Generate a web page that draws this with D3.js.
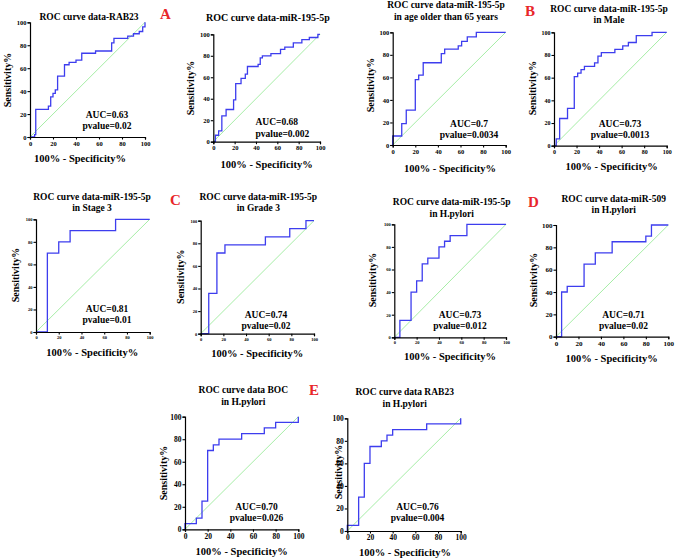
<!DOCTYPE html>
<html><head><meta charset="utf-8">
<script src="https://cdn.jsdelivr.net/npm/d3@7"></script>
<style>body{margin:0;background:#fff}svg{display:block}</style>
</head><body>
<script>
// ---------- DATA ----------
const panelIds = ["p1","p2","p3","p4","p5","p6","p7","p8","p9","p10"];
const titleLines = [
  ["ROC curve data-RAB23"],
  ["ROC curve data-miR-195-5p"],
  ["ROC curve data-miR-195-5p","in age older than 65 years"],
  ["ROC curve data-miR-195-5p","in Male"],
  ["ROC curve data-miR-195-5p","in Stage 3"],
  ["ROC curve data-miR-195-5p","in Grade 3"],
  ["ROC curve data-miR-195-5p","in H.pylori"],
  ["ROC curve data-miR-509","in H.pylori"],
  ["ROC curve data BOC","in H.pylori"],
  ["ROC curve data RAB23","in H.pylori"]
];
const aucLabels = ["AUC=0.63","AUC=0.68","AUC=0.7","AUC=0.73","AUC=0.81","AUC=0.74","AUC=0.73","AUC=0.71","AUC=0.70","AUC=0.76"];
const pLabels = ["pvalue=0.02","pvalue=0.002","pvalue=0.0034","pvalue=0.0013","pvalue=0.01","pvalue=0.02","pvalue=0.012","pvalue=0.02","pvalue=0.026","pvalue=0.004"];
const tickValues = [0,20,40,60,80,100];
const diagonal = [0,100];
const xAxisLabel = "100% - Specificity%";
const yAxisLabel = "Sensitivity%";
const panelLetters = ["A","B","C","D","E"];

// ROC vertices (100% - specificity, sensitivity)
const p1X = [0,4,4,5,5,16,16,18,18,20,20,22,22,24,24,30,30,34,34,40,40,45,45,57,57,71,71,73,73,85,85,90,90,95,95,98,98,100,100];
const p1Y = [0,0,2,2,24,24,27,27,35,35,38,38,41,41,53,53,63,63,65,65,67,67,73,73,75,75,82,82,86,86,88,88,90,90,92,92,96,96,100];
const p2X = [0,2,2,5,5,8,8,12,12,19,19,21,21,26,26,30,30,32,32,42,42,44,44,46,46,54,54,63,63,67,67,75,75,83,83,90,90,98,98,100];
const p2Y = [0,0,6,6,10,10,24,24,30,30,39,39,54,54,59,59,63,63,70,70,72,72,78,78,80,80,82,82,86,86,88,88,92,92,95,95,97,97,100,100];
const p3X = [0,0,8,8,12,12,20,20,23,23,27,27,43,43,46,46,58,58,61,61,66,66,74,74,100];
const p3Y = [0,8,8,19,19,31,31,58,58,62,62,73,73,81,81,85,85,88,88,92,92,96,96,100,100];
const p4X = [0,2,2,5,5,12,12,18,18,21,21,24,24,27,27,36,36,39,39,42,42,54,54,61,61,66,66,73,73,87,87,100];
const p4Y = [0,0,6,6,24,24,33,33,61,61,64,64,67,67,70,70,73,73,79,79,82,82,85,85,88,88,91,91,97,97,100,100];
const p5X = [0,10,10,20,20,30,30,70,70,100];
const p5Y = [0,0,70,70,80,80,90,90,100,100];
const p6X = [0,7.1,7.1,14.3,14.3,21.4,21.4,57.1,57.1,78.6,78.6,92.9,92.9,100];
const p6Y = [0,0,35.7,35.7,71.4,71.4,78.6,78.6,85.7,85.7,92.9,92.9,100,100];
const p7X = [0,5,5,15,15,20,20,25,25,30,30,40,40,45,45,50,50,65,65,100];
const p7Y = [0,0,15,15,40,40,50,50,65,65,70,70,80,80,85,85,90,90,100,100];
const p8X = [0,5,5,10,10,25,25,35,35,50,50,80,80,85,85,100];
const p8Y = [0,0,40,40,45,45,65,65,75,75,85,85,90,90,100,100];
const p9X = [0,0,10,10,15,15,20,20,25,25,30,30,50,50,70,70,80,80,100,100];
const p9Y = [0,5,5,10,10,25,25,70,70,75,75,80,80,85,85,90,90,95,95,100];
const p10X = [0,0,10,10,15,15,20,20,30,30,35,35,40,40,70,70,100,100];
const p10Y = [0,5,5,30,30,60,60,75,75,80,80,85,85,90,90,95,95,100];
const curvesX = [p1X,p2X,p3X,p4X,p5X,p6X,p7X,p8X,p9X,p10X];
const curvesY = [p1Y,p2Y,p3Y,p4Y,p5Y,p6Y,p7Y,p8Y,p9Y,p10Y];

// ---------- LAYOUT (pixels) ----------
const layout = [
  {box:[30,145,22.3,137], tx:89, ty:[20], auc:[107,115,126], yl:[7,80], xl:[80,158.5], tf:6.5, ttf:9.5, align:"middle"},
  {box:[213.3,320,34.3,141.7], tx:268, ty:[20.5], auc:[255.5,121.7,133.3], yl:[190,88], xl:[266.7,164.5], tf:6.5, ttf:10, align:"start"},
  {box:[392.7,505.7,32.3,145], tx:446, ty:[8,19.5], auc:[469,123.3,134.3], yl:[370,85], xl:[450,168], tf:6.5, ttf:9.5, align:"middle"},
  {box:[554,666.7,32.3,145.7], tx:609, ty:[11.5,23], auc:[620,123.3,134.3], yl:[532.3,88], xl:[611.7,166.5], tf:6, ttf:9.5, align:"middle"},
  {box:[36,149.7,219.3,332], tx:92, ty:[199.5,210.5], auc:[107,308.3,320], yl:[15,275], xl:[92.3,352.3], tf:4.5, ttf:9.5, align:"middle"},
  {box:[200.7,314,220.7,333.7], tx:258.3, ty:[199.5,211], auc:[266,315,325.7], yl:[180,276.7], xl:[257.3,353.5], tf:4.5, ttf:9.5, align:"middle"},
  {box:[394.3,506,224.3,337.3], tx:451.7, ty:[205,216.7], auc:[460,315,325.7], yl:[372.7,280], xl:[450,356.7], tf:4.5, ttf:9.5, align:"middle"},
  {box:[556,668.3,225,336.7], tx:613.7, ty:[201.7,213], auc:[623.5,315,325.7], yl:[533.3,280], xl:[611.7,358], tf:7, ttf:9.5, align:"middle"},
  {box:[185,298.3,416.7,529.3], tx:243.3, ty:[393.3,405], auc:[256.5,506.7,517.7], yl:[163,473], xl:[241.7,551.7], tf:7.5, ttf:9.5, align:"middle"},
  {box:[347.3,460.7,418.3,531], tx:404.7, ty:[395,406.7], auc:[417.5,506.7,517.7], yl:[338,472], xl:[405,552.7], tf:7.5, ttf:9.5, align:"middle"}
];
const letterPos = [[160,19],[525,15.5],[170,205],[528,206.5],[309,395]];

const FONT = "'Liberation Serif','Times New Roman',serif";
const svg = d3.select("body").append("svg").attr("width",676).attr("height",560)
  .style("font-family",FONT);

panelIds.forEach((id,i)=>{
  const L = layout[i];
  const [l,r,t,b] = L.box;
  const x = d3.scaleLinear().domain([0,100]).range([l,r]);
  const y = d3.scaleLinear().domain([0,100]).range([b,t]);
  const g = svg.append("g").attr("id",id);

  g.append("line")
    .attr("x1",x(diagonal[0])).attr("y1",y(diagonal[0]))
    .attr("x2",x(diagonal[1])).attr("y2",y(diagonal[1]))
    .attr("stroke","#8fe88f").attr("stroke-width",0.8);

  const pts = curvesX[i].map((v,k)=>[v,curvesY[i][k]]);
  g.append("path").datum(pts)
    .attr("d",d3.line().x(d=>x(d[0])).y(d=>y(d[1])))
    .attr("fill","none").attr("stroke","#3d3dee").attr("stroke-width",1.3)
    .attr("stroke-linejoin","miter");

  const ax = g.append("g").attr("transform",`translate(0,${b})`)
    .call(d3.axisBottom(x).tickValues(tickValues).tickSize(2.5).tickPadding(1.5));
  const ay = g.append("g").attr("transform",`translate(${l},0)`)
    .call(d3.axisLeft(y).tickValues(tickValues).tickSize(2.5).tickPadding(1));
  [ax,ay].forEach(a=>{
    a.select(".domain").attr("stroke","#000").attr("stroke-width",1.2);
    a.selectAll(".tick line").attr("stroke","#000").attr("stroke-width",1.1);
    a.selectAll(".tick text").attr("fill","#000").style("font-family",FONT)
      .style("font-weight","bold").style("font-size",L.tf+"px");
  });

  titleLines[i].forEach((line,k)=>{
    g.append("text").attr("x",L.tx).attr("y",L.ty[k]).attr("text-anchor","middle")
      .style("font-weight","bold").style("font-size",L.ttf+"px").text(line);
  });

  g.append("text").attr("transform",`translate(${L.yl[0]},${L.yl[1]}) rotate(-90)`)
    .attr("text-anchor","middle").attr("dy","0.35em")
    .style("font-weight","bold").style("font-size","10px").text(yAxisLabel);
  g.append("text").attr("x",L.xl[0]).attr("y",L.xl[1]).attr("text-anchor","middle").attr("dy","0.35em")
    .style("font-weight","bold").style("font-size","10.5px").text(xAxisLabel);

  g.append("text").attr("x",L.auc[0]).attr("y",L.auc[1]).attr("text-anchor",L.align).attr("dy","0.35em")
    .style("font-weight","bold").style("font-size","9.5px").text(aucLabels[i]);
  g.append("text").attr("x",L.auc[0]).attr("y",L.auc[2]).attr("text-anchor",L.align).attr("dy","0.35em")
    .style("font-weight","bold").style("font-size","9.5px").text(pLabels[i]);
});

panelLetters.forEach((c,i)=>{
  svg.append("text").attr("x",letterPos[i][0]).attr("y",letterPos[i][1])
    .attr("fill","#e8262a").style("font-weight","bold").style("font-size","15px").text(c);
});
</script>
</body></html>
